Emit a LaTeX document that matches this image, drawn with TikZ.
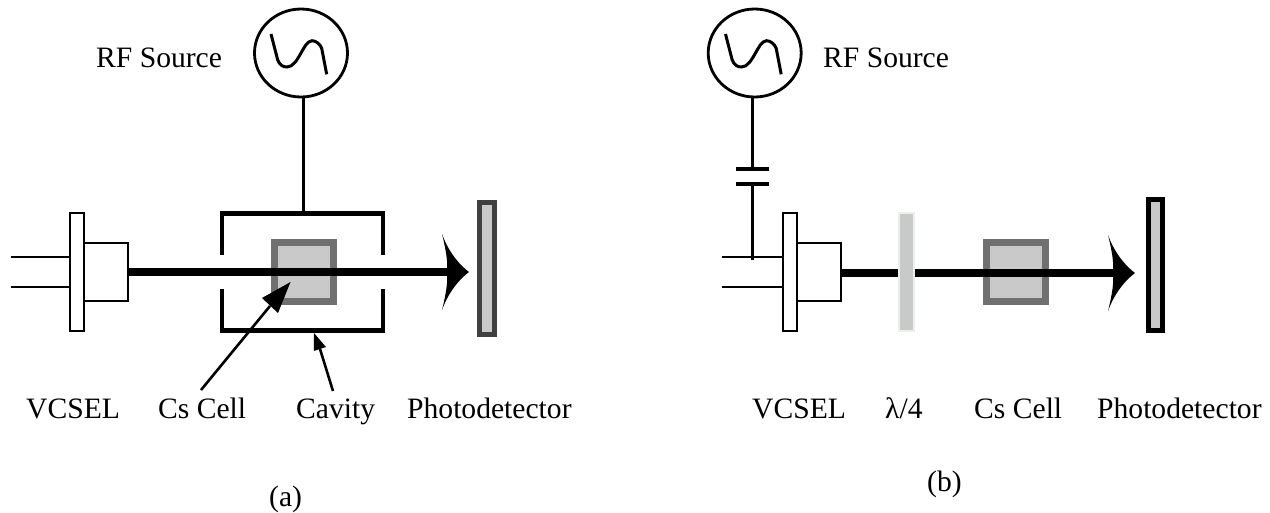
\documentclass[tikz,border=0pt]{standalone}
\usepackage{fontspec}
\setmainfont{Liberation Serif}
\usetikzlibrary{arrows.meta,shapes.geometric}
\definecolor{cellgray}{HTML}{707070}
\definecolor{lightgray2}{HTML}{C9C9C9}
\definecolor{detgray}{HTML}{404040}
\definecolor{plateedge}{HTML}{E8F2EA}
\tikzset{
  x=1pt,y=-1pt,
  boxnode/.style={draw=black,fill=white,line width=2pt,inner sep=0pt,outer sep=0pt,anchor=north west},
  cellbox/.style={draw=cellgray,fill=lightgray2,line width=7pt,minimum width=59pt,minimum height=59pt,inner sep=0pt,outer sep=0pt},
  srcnode/.style={ellipse,draw=black,line width=2.8pt,minimum width=93pt,minimum height=88pt,inner sep=0pt,outer sep=0pt},
  wire/.style={line width=3.2pt,draw=black},
  lead/.style={line width=2pt,draw=black},
  beam/.style={line width=7.6pt,draw=black},
  cavwall/.style={line width=4.7pt,draw=black},
  platecap/.style={line width=4pt,draw=black},
  detnode/.style={fill=lightgray2,line width=4.7pt,inner sep=0pt,outer sep=0pt,anchor=north west},
  pointer/.style={line width=2.6pt,draw=black},
  lbl/.style={font=\fontsize{29.6}{34}\selectfont,inner sep=0pt,anchor=base west,text=black},
}
\newcommand{\sinewave}[2]{%
  \draw[line width=3pt,shift={(#1,#2)}] (-30,-19) -- (-23.3,7)
    .. controls (-21.5,12) and (-18,14) .. (-14,14)
    .. controls (-8,14) and (-4,7) .. (0,0)
    .. controls (3,-5) and (6,-12) .. (11,-12.3)
    .. controls (15,-12.3) and (19,-9) .. (20.7,-4.7) -- (25.7,21.3);}
\newcommand{\beamhead}[2]{%
  \fill[shift={(#1,#2)}] (0,0) .. controls (-13,10) and (-22,24) .. (-27,38)
    .. controls (-23,22) and (-21,10) .. (-22,0)
    .. controls (-21,-10) and (-23,-22) .. (-27,-38)
    .. controls (-22,-24) and (-13,-10) .. (0,0) -- cycle;}
\begin{document}
\begin{tikzpicture}
\useasboundingbox (0,0) rectangle (1270,512);
\fill[white] (0,0) rectangle (1270,512);

% ---------- panel (a) ----------
\node[srcnode] (srcA) at (301,53) {};
\sinewave{301}{53}
\node[lbl] (rfA) at (96,67) {RF Source};
\coordinate (cavTopA) at (303.5,213.5);
\draw[wire] (srcA.south -| cavTopA) -- (cavTopA);
\draw[cavwall,line join=miter] (222,255) -- (222,213.5) -- (383,213.5) -- (383,255);
\draw[cavwall,line join=miter] (222,289) -- (222,330.5) -- (383,330.5) -- (383,289);
\node[cellbox] (cellA) at (304,272) {};
\node[boxnode,minimum width=14pt,minimum height=118pt] (plateA) at (70,213) {};
\node[boxnode,minimum width=44pt,minimum height=58pt] (laserA) at (84,243) {};
\coordinate (leadA1) at (11,257.3);
\coordinate (leadA2) at (11,286.7);
\draw[lead] (leadA1) -- (leadA1 -| plateA.west);
\draw[lead] (leadA2) -- (leadA2 -| plateA.west);
\draw[beam] (laserA.east |- 0,272) -- (450,272);
\beamhead{469}{272}
\node[detnode,draw=detgray,minimum width=15.4pt,minimum height=132.4pt] (detA) at (479.3,202.3) {};
\node[lbl] (vcselA) at (26,418) {VCSEL};
\node[lbl] (csA) at (158,418) {Cs Cell};
\node[lbl] (cavA) at (296,418) {Cavity};
\node[lbl] (pdA) at (407,418) {Photodetector};
\node[lbl] (capA) at (269,506) {(a)};
\coordinate (ptrCellStart) at (201,390);
\coordinate (ptrCellMid) at (270,306);
\coordinate (ptrCellEnd) at (290.5,282);
\coordinate (ptrCavStart) at (333,391);
\coordinate (ptrCavMid) at (320,349);
\coordinate (ptrCavEnd) at (314,333);
\draw[pointer] (ptrCellStart) -- (ptrCellMid);
\fill (ptrCellEnd) -- (262,298) -- (278,313) -- cycle;
\draw[pointer] (ptrCavStart) -- (ptrCavMid);
\fill (ptrCavEnd) -- (313.8,351) -- (326,347) -- cycle;

% ---------- panel (b) ----------
\node[srcnode] (srcB) at (754.7,53) {};
\sinewave{755.5}{53}
\node[lbl] (rfB) at (823,67) {RF Source};
\coordinate (capTop) at (752.7,169.3);
\coordinate (capBot) at (752.7,184);
\coordinate (tap) at (752.7,260);
\draw[wire] (srcB.south -| capTop) -- (capTop);
\draw[wire] (capBot) -- (tap);
\coordinate (capTopL) at (736,169.3);
\coordinate (capTopR) at (769,169.3);
\coordinate (capBotL) at (736,184);
\coordinate (capBotR) at (769,184);
\draw[platecap] (capTopL) -- (capTopR);
\draw[platecap] (capBotL) -- (capBotR);
\node[boxnode,minimum width=14pt,minimum height=118pt] (plateB) at (782.7,213) {};
\node[boxnode,minimum width=44pt,minimum height=58pt] (laserB) at (796.7,243) {};
\coordinate (leadB1) at (722,257.3);
\coordinate (leadB2) at (722,286.7);
\draw[lead] (leadB1) -- (leadB1 -| plateB.west);
\draw[lead] (leadB2) -- (leadB2 -| plateB.west);
\node[cellbox] (cellB) at (1016,272) {};
\draw[beam] (laserB.east |- 0,273) -- (1116,273);
\beamhead{1135}{273}
\node[draw=plateedge,fill=lightgray2,line width=2pt,minimum width=15pt,minimum height=118pt,inner sep=0pt,outer sep=0pt] (qwp) at (906.5,272) {};
\node[detnode,draw=black,minimum width=14.4pt,minimum height=131.4pt] (detB) at (1148.3,199.3) {};
\node[lbl] (vcselB) at (752,418) {VCSEL};
\node[lbl] (lam) at (885,418) {λ/4};
\node[lbl] (csB) at (974,418) {Cs Cell};
\node[lbl] (pdB) at (1097,418) {Photodetector};
\node[lbl] (capB) at (927,491) {(b)};
\end{tikzpicture}
\end{document}
